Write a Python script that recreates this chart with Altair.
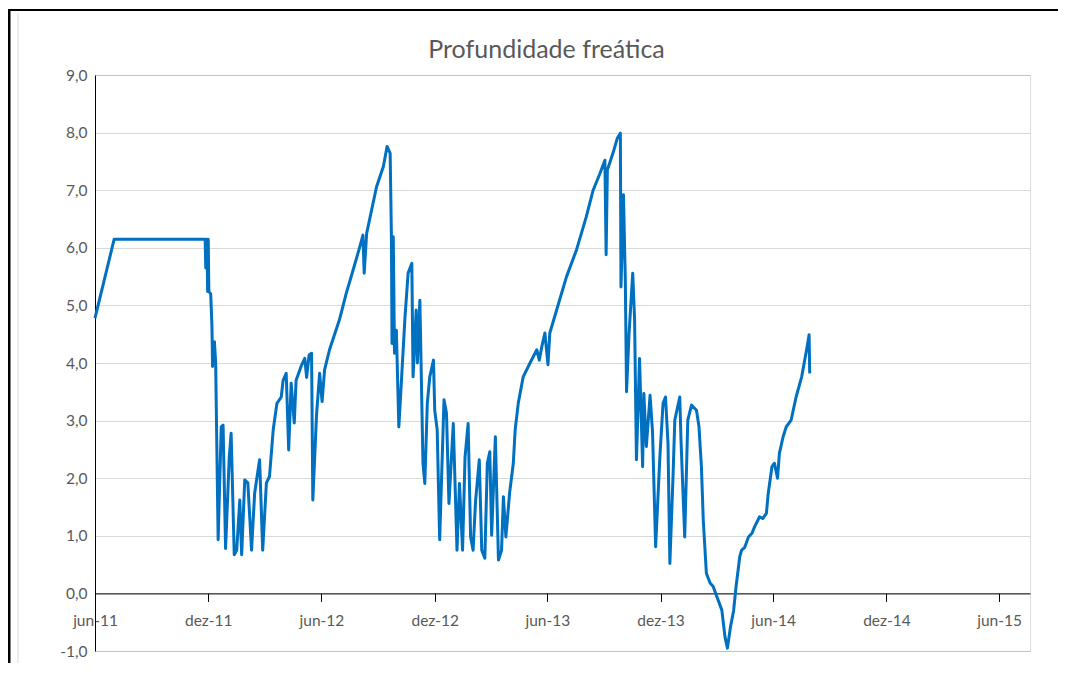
import altair as alt
import pandas as pd

dates = [
    "2011-06-01", "2011-07-02", "2011-11-26", "2011-11-27", "2011-11-29", "2011-11-30",
    "2011-12-01", "2011-12-02", "2011-12-05", "2011-12-07", "2011-12-08", "2011-12-11",
    "2011-12-13", "2011-12-17", "2011-12-22", "2011-12-25", "2011-12-29", "2012-01-04",
    "2012-01-07", "2012-01-12", "2012-01-16", "2012-01-21", "2012-01-24", "2012-01-29",
    "2012-02-03", "2012-02-09", "2012-02-14", "2012-02-22", "2012-02-27", "2012-03-04",
    "2012-03-09", "2012-03-15", "2012-03-21", "2012-03-28", "2012-03-31", "2012-04-05",
    "2012-04-09", "2012-04-13", "2012-04-18", "2012-04-21", "2012-04-29", "2012-05-05",
    "2012-05-08", "2012-05-12", "2012-05-16", "2012-05-18", "2012-05-24", "2012-05-29",
    "2012-06-02", "2012-06-06", "2012-06-14", "2012-06-30", "2012-07-11", "2012-07-22",
    "2012-08-02", "2012-08-07", "2012-08-09", "2012-08-13", "2012-08-29", "2012-09-09",
    "2012-09-15", "2012-09-20", "2012-09-22", "2012-09-23", "2012-09-25", "2012-09-27",
    "2012-09-30", "2012-10-04", "2012-10-08", "2012-10-14", "2012-10-19", "2012-10-25",
    "2012-10-27", "2012-11-01", "2012-11-03", "2012-11-07", "2012-11-12", "2012-11-15",
    "2012-11-19", "2012-11-23", "2012-11-29", "2012-12-01", "2012-12-05", "2012-12-09",
    "2012-12-16", "2012-12-20", "2012-12-24", "2012-12-31", "2013-01-06", "2013-01-10",
    "2013-01-15", "2013-01-19", "2013-01-24", "2013-01-28", "2013-02-01", "2013-02-05",
    "2013-02-11", "2013-02-15", "2013-02-20", "2013-02-24", "2013-02-28", "2013-03-03",
    "2013-03-09", "2013-03-14", "2013-03-19", "2013-03-22", "2013-03-26", "2013-04-01",
    "2013-04-07", "2013-04-10", "2013-04-15", "2013-04-23", "2013-05-04", "2013-05-15",
    "2013-05-19", "2013-05-23", "2013-05-28", "2013-06-02", "2013-06-05", "2013-06-16",
    "2013-07-02", "2013-07-18", "2013-08-03", "2013-08-14", "2013-08-25", "2013-09-02",
    "2013-09-04", "2013-09-06", "2013-09-15", "2013-09-22", "2013-09-27", "2013-09-28",
    "2013-10-02", "2013-10-05", "2013-10-07", "2013-10-11", "2013-10-17", "2013-10-20",
    "2013-10-23", "2013-10-28", "2013-11-02", "2013-11-04", "2013-11-08", "2013-11-14",
    "2013-11-18", "2013-11-23", "2013-11-30", "2013-12-05", "2013-12-09", "2013-12-13",
    "2013-12-16", "2013-12-21", "2013-12-24", "2014-01-01", "2014-01-03", "2014-01-09",
    "2014-01-14", "2014-01-20", "2014-01-28", "2014-02-01", "2014-02-05", "2014-02-08",
    "2014-02-13", "2014-02-19", "2014-02-24", "2014-03-02", "2014-03-10", "2014-03-15",
    "2014-03-19", "2014-03-24", "2014-03-29", "2014-04-02", "2014-04-08", "2014-04-11",
    "2014-04-16", "2014-04-22", "2014-04-28", "2014-05-02", "2014-05-10", "2014-05-15",
    "2014-05-21", "2014-05-24", "2014-05-30", "2014-06-03", "2014-06-08", "2014-06-11",
    "2014-06-17", "2014-06-22", "2014-06-30", "2014-07-08", "2014-07-17", "2014-07-25",
    "2014-07-29", "2014-07-30",
]

depth = [
    4.78, 6.15, 6.15, 5.65, 6.15, 5.24,
    6.15, 5.24, 5.20, 4.63, 3.94, 4.37,
    4.00, 0.93, 2.89, 2.92, 0.78, 2.37,
    2.78, 0.67, 0.75, 1.62, 0.67, 1.97,
    1.92, 0.75, 1.74, 2.32, 0.75, 1.92,
    2.03, 2.84, 3.30, 3.41, 3.70, 3.82,
    2.49, 3.65, 2.96, 3.70, 3.94, 4.08,
    3.75, 4.14, 4.17, 1.62, 3.10, 3.82,
    3.33, 3.88, 4.23, 4.75, 5.21, 5.61,
    6.02, 6.22, 5.56, 6.25, 7.06, 7.41,
    7.76, 7.64, 6.19, 4.34, 6.19, 4.17,
    4.57, 2.89, 3.65, 4.80, 5.56, 5.73,
    3.76, 4.92, 4.00, 5.09, 2.26, 1.91,
    3.30, 3.76, 4.05, 3.18, 2.84, 0.93,
    3.36, 3.13, 1.56, 2.95, 0.75, 1.91,
    0.75, 2.37, 2.95, 0.98, 0.75, 1.60,
    2.32, 0.75, 0.61, 2.26, 2.46, 1.01,
    2.72, 0.58, 0.75, 1.68, 0.98, 1.74,
    2.26, 2.84, 3.30, 3.76, 4.00, 4.23,
    4.05, 4.28, 4.52, 3.97, 4.52, 4.92,
    5.50, 5.96, 6.54, 7.00, 7.29, 7.52,
    5.88, 7.35, 7.64, 7.90, 7.99, 5.32,
    6.92, 5.44, 3.50, 4.50, 5.56, 4.75,
    2.32, 4.08, 2.20, 3.47, 2.55, 3.44,
    2.80, 0.81, 2.40, 3.30, 3.41, 2.60,
    0.52, 2.00, 3.01, 3.41, 2.66, 0.98,
    3.01, 3.27, 3.18, 2.90, 2.20, 1.27,
    0.35, 0.18, 0.12, -0.06, -0.29, -0.75,
    -0.95, -0.58, -0.30, 0.12, 0.64, 0.75,
    0.80, 0.98, 1.05, 1.16, 1.33, 1.30,
    1.39, 1.74, 2.20, 2.26, 2.00, 2.43,
    2.72, 2.89, 3.01, 3.41, 3.76, 4.23,
    4.49, 3.82,
]

y_ticks = [-1, 0, 1, 2, 3, 4, 5, 6, 7, 8, 9]
x_tick_dates = [(2011, 6), (2011, 12), (2012, 6), (2012, 12), (2013, 6),
                (2013, 12), (2014, 6), (2014, 12), (2015, 6)]
x_start = (2011, 6, 1)
x_end = (2015, 7, 21)
title_text = "Profundidade freática"

df = pd.DataFrame({"date": dates, "depth": depth})

W, H = 935, 576
FONT = "Lato"
GREY = "#595959"

x_values = [alt.DateTime(year=y, month=m, date=1, utc=True) for y, m in x_tick_dates]

x_axis = alt.Axis(
    values=x_values,
    labelExpr="['jan','fev','mar','abr','mai','jun','jul','ago','set','out','nov','dez'][utcmonth(datum.value)] + '-' + utcFormat(datum.value, '%y')",
    offset=-H / 10,
    grid=False,
    domainColor="#000000",
    domainWidth=1,
    tickColor="#000000",
    tickSize=8,
    labelPadding=12,
    labelFont=FONT,
    labelFontSize=15.5,
    labelColor=GREY,
    labelAngle=0,
    labelFlush=False,
    labelOverlap=False,
    title=None,
)

y_axis = alt.Axis(
    values=y_ticks,
    labelExpr="replace((datum.value < 0 ? '-' : '') + format(abs(datum.value), '.1f'), '.', ',')",
    grid=True,
    gridColor={"condition": {"test": "datum.value == 9 || datum.value == -1", "value": "#a9c9e8"}, "value": "#d9d9d9"},
    gridWidth=1,
    domainColor="#000000",
    domainWidth=1,
    ticks=False,
    labelPadding=8,
    labelFont=FONT,
    labelFontSize=15.5,
    labelColor=GREY,
    title=None,
)

line = alt.Chart(df).mark_line(color="#0070C0", strokeWidth=3, strokeJoin="round").encode(
    x=alt.X("date:T",
            scale=alt.Scale(type="utc",
                            domain=[alt.DateTime(year=x_start[0], month=x_start[1], date=x_start[2], utc=True),
                                    alt.DateTime(year=x_end[0], month=x_end[1], date=x_end[2], utc=True)]),
            axis=x_axis),
    y=alt.Y("depth:Q", scale=alt.Scale(domain=[-1, 9], nice=False, zero=False), axis=y_axis),
)

one = pd.DataFrame({"k": [0]})

# chart title drawn as text above the plot area
title = alt.Chart(one).mark_text(
    font=FONT, fontSize=25, color=GREY, align="center", baseline="alphabetic"
).encode(
    x=alt.value(W / 2 - 16), y=alt.value(-17), text=alt.value(title_text)
)

# decorative outer frame lines (screenshot border)
frame_top = alt.Chart(one).mark_rule(color="#000000", strokeWidth=2).encode(
    x=alt.value(-87), x2=alt.value(W + 40), y=alt.value(-65)
)
frame_left = alt.Chart(one).mark_rule(color="#000000", strokeWidth=3).encode(
    x=alt.value(-86), y=alt.value(-65), y2=alt.value(H + 20)
)
frame_inner = alt.Chart(one).mark_rule(color="#d9d9d9", strokeWidth=1).encode(
    x=alt.value(-77), y=alt.value(-62), y2=alt.value(H + 20)
)

chart = alt.layer(frame_top, frame_left, frame_inner, title, line).properties(
    width=W,
    height=H,
    padding={"left": 87, "top": 67, "right": 28, "bottom": 12},
    autosize=alt.AutoSizeParams(type="none"),
).configure_view(
    stroke="#a9c9e8",
    strokeWidth=1,
).configure(background="#ffffff")

chart.save("out.html", embed_options={"renderer": "svg", "actions": False})
